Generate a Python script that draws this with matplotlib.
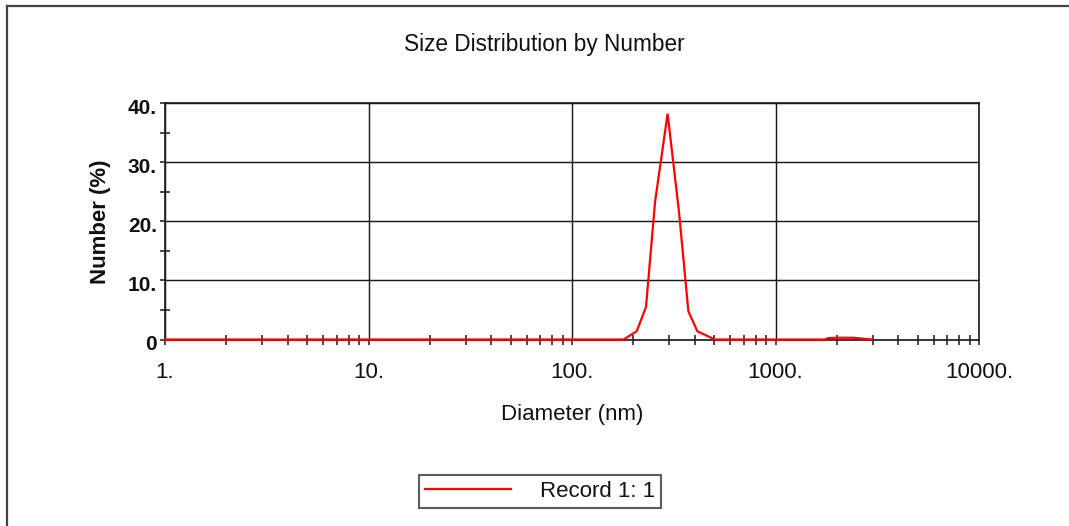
import matplotlib
matplotlib.use("Agg")
import matplotlib.pyplot as plt
from matplotlib.lines import Line2D
from matplotlib.ticker import FixedLocator, NullFormatter
from matplotlib.transforms import offset_copy

# ---- data ----
diameter_nm = [1, 164, 179, 208, 231, 256, 295, 336, 373, 413, 504,
               1750, 1820, 2000, 2400, 2970]
number_pct = [0, 0, 0, 1.4, 5.5, 23.3, 38.2, 21.4, 4.8, 1.4, 0,
              0, 0.25, 0.3, 0.3, 0]
series_label = "Record 1: 1"

x_ticks = [1, 10, 100, 1000, 10000]
x_tick_labels = ["1.", "10.", "100.", "1000.", "10000."]
y_ticks = [0, 10, 20, 30, 40]
y_tick_labels = ["0", "10.", "20.", "30.", "40."]
y_minor = [5, 15, 25, 35]

title = "Size Distribution by Number"
xlabel = "Diameter (nm)"
ylabel = "Number (%)"

# ---- figure ----
W, H = 1069, 526
plt.rcParams['font.family'] = ['Liberation Sans', 'DejaVu Sans']
fig = plt.figure(figsize=(W / 100, H / 100), dpi=100)
fig.patch.set_facecolor('white')

L, R, T, B = 165, 979, 103, 339.5
ax = fig.add_axes([L / W, 1 - B / H, (R - L) / W, (B - T) / H])

gc = '#1a1a1a'
tc = '#111111'
ax.plot(diameter_nm, number_pct, color='#ff0000', lw=1.6, label=series_label,
        solid_joinstyle='miter', zorder=3, clip_on=False)

ax.set_xscale('log')
ax.set_xlim(1, 10000)
ax.set_ylim(0, 40)

ax.set_xticks(x_ticks)
ax.set_xticklabels(x_tick_labels)
minors = [m * d for d in [1, 10, 100, 1000] for m in range(2, 10)]
ax.xaxis.set_minor_locator(FixedLocator(minors))
ax.xaxis.set_minor_formatter(NullFormatter())
ax.set_yticks(y_ticks)
ax.yaxis.set_minor_locator(FixedLocator(y_minor))

ax.grid(True, which='major', color=gc, lw=1.05)
ax.set_axisbelow(True)
for s in ax.spines.values():
    s.set_color(gc)
    s.set_linewidth(1.2)

ax.tick_params(which='major', direction='out', length=3.5, width=1.1,
               color=gc, labelsize=16, labelcolor=tc)
ax.tick_params(which='minor', direction='inout', length=6.5, width=1.1, color=gc)
ax.tick_params(axis='x', which='major', pad=12.5)
ax.tick_params(axis='y', which='major', labelleft=False)

# y tick labels placed with a small downward offset, as in the reference
ytr = offset_copy(ax.get_yaxis_transform(), fig=fig, x=-8, y=-11, units='dots')
for v, s in zip(y_ticks, y_tick_labels):
    ax.text(0, v, s, transform=ytr, ha='right', va='baseline',
            fontsize=15, fontweight='bold', color=tc, clip_on=False)

ax.set_xlabel(xlabel, fontsize=16, color=tc)
ax.xaxis.set_label_coords(0.5, -0.272)
ax.set_ylabel(ylabel, fontsize=16, fontweight='bold', color=tc)
ax.yaxis.set_label_coords(-0.066, 0.5)

fig.text(544 / W, 1 - 45 / H, title, ha='center', va='center',
         fontsize=16.3, color=tc)

leg = fig.legend(loc='center', bbox_to_anchor=(540 / W, 1 - 491.5 / H),
                 fontsize=16, frameon=True, fancybox=False, shadow=False,
                 handlelength=3.9, handletextpad=1.3, borderpad=0.25,
                 borderaxespad=0)
leg.get_frame().set_edgecolor('#333333')
leg.get_frame().set_linewidth(1.5)
for t in leg.get_texts():
    t.set_color(tc)

# outer frame (top and left only)
fc = '#444444'
fig.add_artist(Line2D([7 / W, 1.0], [1 - 6 / H, 1 - 6 / H], color=fc, lw=1.6,
                      transform=fig.transFigure))
fig.add_artist(Line2D([7 / W, 7 / W], [1 - 6 / H, 0], color=fc, lw=1.6,
                      transform=fig.transFigure))

fig.savefig('out.png', dpi=100)
